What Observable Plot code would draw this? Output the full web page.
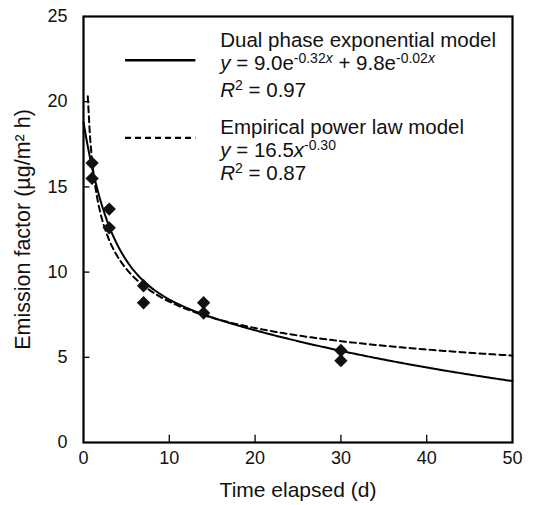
<!DOCTYPE html>
<html><head><meta charset="utf-8">
<script src="https://cdn.jsdelivr.net/npm/d3@7"></script>
<script src="https://cdn.jsdelivr.net/npm/@observablehq/plot@0.6"></script>
<style>body{margin:0;background:#fff;} svg{font-family:"Liberation Sans",Arial,sans-serif;}</style>
</head><body><div id="chart"></div>
<script>
// Measured data (days, emission factor)
const days = [1, 1, 3, 3, 7, 7, 14, 14, 30, 30];
const emission = [16.4, 15.5, 13.7, 12.6, 9.2, 8.2, 8.2, 7.6, 5.4, 4.8];
// Model coefficients printed in the legend
const dualCoef = [9.0, -0.32, 9.8, -0.02];   // y = a e^(b x) + c e^(d x)
const powerCoef = [16.5, -0.30];              // y = a x^b
const xTicks = [0, 10, 20, 30, 40, 50];
const yTicks = [0, 5, 10, 15, 20, 25];
const xLabel = ["Time elapsed (d)"];
const yLabel = ["Emission factor (µg/m² h)"];
const curveX = d3.range(0, 50.001, 0.25);

const points = days.map((d, i) => ({x: d, y: emission[i]}));
const dual = curveX.map(x => ({x, y: dualCoef[0]*Math.exp(dualCoef[1]*x) + dualCoef[2]*Math.exp(dualCoef[3]*x)}));
const power = curveX.filter(x => x >= 0.5).map(x => ({x, y: powerCoef[0]*Math.pow(x, powerCoef[1])}));

const SUP = 14, RAISE = 7;
function legend(index, scales, values, dim) {
  const g = d3.create("svg:g").attr("font-family", '"Liberation Sans",Arial,sans-serif').attr("font-size", 20.5).attr("fill", "#111").attr("text-anchor", "start");
  const X = scales.x, Y = scales.y;
  const tx = X(16);
  const l1 = X(4.9), l2 = X(13.1);
  g.append("line").attr("x1", l1).attr("x2", l2).attr("y1", Y(22.4)).attr("y2", Y(22.4)).attr("stroke", "#000").attr("stroke-width", 2.5);
  g.append("line").attr("x1", l1).attr("x2", l2).attr("y1", Y(17.85)).attr("y2", Y(17.85)).attr("stroke", "#000").attr("stroke-width", 2.2).attr("stroke-dasharray", "6,4");
  const rows = [
    {y: 23.2, parts: [["Dual phase exponential model"]]},
    {y: 21.85, parts: [["y", "i"], [" = 9.0e"], ["-0.32", "s"], ["x", "si"], [" + 9.8e"], ["-0.02", "s"], ["x", "si"]]},
    {y: 20.25, parts: [["R", "i"], ["2", "s"], [" = 0.97"]]},
    {y: 18.1, parts: [["Empirical power law model"]]},
    {y: 16.75, parts: [["y", "i"], [" = 16.5"], ["x", "i"], ["-0.30", "s"]]},
    {y: 15.35, parts: [["R", "i"], ["2", "s"], [" = 0.87"]]}
  ];
  for (const r of rows) {
    const t = g.append("text").attr("x", tx).attr("y", Y(r.y));
    let raised = false;
    for (const [s, f] of r.parts) {
      const ts = t.append("tspan").text(s);
      const sup = !!(f && f.includes("s"));
      if (f && f.includes("i")) ts.attr("font-style", "italic");
      if (sup) ts.attr("font-size", SUP);
      if (sup && !raised) { ts.attr("dy", -RAISE); raised = true; }
      else if (!sup && raised) { ts.attr("dy", RAISE); raised = false; }
    }
  }
  return g.node();
}

const chart = Plot.plot({
  width: 538, height: 505,
  marginLeft: 83, marginRight: 26, marginTop: 16, marginBottom: 63,
  style: {fontFamily: '"Liberation Sans",Arial,sans-serif', background: "#fff", color: "#111"},
  x: {domain: [0, 50]},
  y: {domain: [0, 25]},
  marks: [
    Plot.axisX({ticks: xTicks, tickSize: 0, tickPadding: 9, fontSize: 18, label: null}),
    Plot.axisY({ticks: yTicks, tickSize: 0, tickPadding: 16, fontSize: 18, label: null}),
    Plot.text(xLabel, {frameAnchor: "bottom", dy: 48, lineAnchor: "middle", fontSize: 21, fill: "#111"}),
    Plot.text(yLabel, {frameAnchor: "left", dx: -60, rotate: -90, textAnchor: "middle", lineAnchor: "middle", fontSize: 21.5, fill: "#111"}),
    Plot.ruleX(xTicks.slice(1, -1), {y1: 0, y2: 0.42, stroke: "#000", strokeWidth: 1.3}),
    Plot.ruleY(yTicks.slice(1, -1), {x1: 0, x2: 0.75, stroke: "#000", strokeWidth: 1.3}),
    Plot.line(power, {x: "x", y: "y", stroke: "#000", strokeWidth: 2, strokeDasharray: "6,4"}),
    Plot.line(dual, {x: "x", y: "y", stroke: "#000", strokeWidth: 2}),
    Plot.dot(points, {x: "x", y: "y", symbol: "diamond2", r: 6, fill: "#111", stroke: "none"}),
    Plot.frame({stroke: "#000", strokeWidth: 2.2}),
    legend
  ]
});
document.getElementById("chart").appendChild(chart);
</script></body></html>
